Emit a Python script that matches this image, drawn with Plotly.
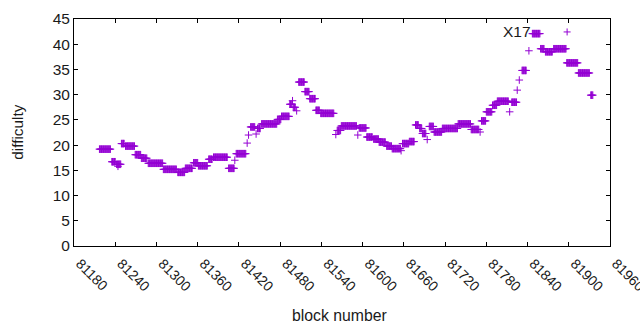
import plotly.graph_objects as go

# Runs of consecutive blocks sharing one difficulty value
run_start = [81217, 81235, 81242, 81244, 81249, 81255, 81269, 81278, 81288, 81310,
             81331, 81342, 81354, 81361, 81376, 81383, 81405, 81414, 81416, 81432,
             81434, 81437, 81445, 81447, 81453, 81476, 81482, 81494, 81498, 81499,
             81504, 81507, 81516, 81523, 81532, 81539, 81561, 81563, 81569, 81593,
             81595, 81606, 81616, 81624, 81635, 81643, 81656, 81658, 81668, 81677,
             81683, 81687, 81694, 81697, 81704, 81716, 81739, 81758, 81771, 81773,
             81780, 81789, 81796, 81814, 81817, 81825, 81828, 81832, 81842, 81847,
             81859, 81866, 81878, 81897, 81914, 81932]
run_end = [81233, 81240, 81248, 81244, 81253, 81268, 81277, 81286, 81309, 81329,
           81341, 81352, 81360, 81374, 81381, 81403, 81413, 81414, 81430, 81432,
           81434, 81443, 81445, 81451, 81475, 81481, 81493, 81497, 81498, 81502,
           81504, 81515, 81522, 81531, 81537, 81558, 81561, 81568, 81591, 81593,
           81605, 81614, 81623, 81633, 81642, 81655, 81656, 81667, 81675, 81681,
           81686, 81692, 81694, 81703, 81715, 81738, 81757, 81769, 81771, 81779,
           81788, 81795, 81812, 81814, 81824, 81825, 81828, 81838, 81842, 81858,
           81864, 81876, 81896, 81913, 81930, 81935]
run_diff = [19.2, 16.7, 16.2, 15.8, 20.3, 19.8, 18.1, 17.4, 16.4, 15.2,
            14.6, 15.4, 16.5, 15.9, 17.2, 17.6, 15.4, 17.0, 18.3, 20.4,
            22.0, 23.6, 22.2, 23.3, 24.2, 25.1, 25.7, 28.1, 28.8, 27.5,
            26.8, 32.5, 30.6, 29.2, 26.9, 26.3, 22.1, 22.9, 23.8, 22.0,
            23.4, 21.6, 21.2, 20.6, 19.8, 19.3, 18.9, 20.3, 20.7, 24.0,
            23.3, 22.3, 21.1, 23.7, 22.6, 23.3, 24.2, 23.1, 22.6, 24.8,
            26.6, 27.9, 28.7, 26.6, 28.5, 30.9, 32.9, 34.8, 38.7, 42.1,
            39.1, 38.5, 39.1, 36.3, 34.3, 29.9]

x_ticks = list(range(81180, 81961, 60))
y_ticks = list(range(0, 46, 5))
series_name = "X17"

blocks, diffs = [], []
for s, e, d in zip(run_start, run_end, run_diff):
    for b in range(s, e + 1):
        blocks.append(b)
        diffs.append(d)

COLOR = "#9400D3"
FONT = "Liberation Sans, Arial, sans-serif"
TXT = "#1a1a1a"

fig = go.Figure()
fig.add_trace(go.Scatter(
    x=blocks, y=diffs, mode="markers", name=series_name, showlegend=False,
    marker=dict(symbol="cross-thin", size=5.4, color=COLOR,
                line=dict(color=COLOR, width=1)),
))

axis_common = dict(showline=True, linecolor="black", linewidth=1, mirror="ticks",
                   ticks="inside", ticklen=4, tickcolor="black", showgrid=False,
                   zeroline=False, automargin=False)

fig.update_xaxes(range=[81180, 81960], tickvals=x_ticks,
                 ticktext=[str(v) for v in x_ticks], tickangle=45,
                 ticklabeloverflow="allow", ticklabelshift=6, ticklabelstandoff=3,
                 tickfont=dict(family=FONT, size=14, color=TXT), **axis_common)
fig.update_yaxes(range=[0, 45], tickvals=y_ticks,
                 tickfont=dict(family=FONT, size=15.5, color=TXT), **axis_common)

fig.update_layout(
    width=640, height=330, margin=dict(l=74, r=30, t=19, b=84),
    paper_bgcolor="white", plot_bgcolor="white",
    font=dict(family=FONT, size=15.5, color=TXT),
    annotations=[
        dict(text="difficulty", x=-0.106, y=0.5, xref="paper", yref="paper",
             textangle=-90, showarrow=False, xanchor="center", yanchor="middle",
             font=dict(family=FONT, size=15.3, color=TXT)),
        dict(text="block number", x=0.495, y=-0.304, xref="paper", yref="paper",
             showarrow=False, xanchor="center", yanchor="middle",
             font=dict(family=FONT, size=15.8, color=TXT)),
        dict(text=series_name, x=0.857, y=0.943, xref="paper", yref="paper",
             showarrow=False, xanchor="right", yanchor="middle",
             font=dict(family=FONT, size=15.5, color=TXT)),
    ],
    shapes=[
        dict(type="line", xref="paper", yref="paper", xsizemode="pixel", ysizemode="pixel",
             xanchor=0.92, yanchor=0.943, x0=-3.5, x1=3.5, y0=0, y1=0,
             line=dict(color=COLOR, width=1)),
        dict(type="line", xref="paper", yref="paper", xsizemode="pixel", ysizemode="pixel",
             xanchor=0.92, yanchor=0.943, x0=0, x1=0, y0=-3.5, y1=3.5,
             line=dict(color=COLOR, width=1)),
    ],
)

fig.write_html("out.html", config={"displayModeBar": False},
               post_script="document.body.style.margin='0';document.body.style.overflow='hidden';")
